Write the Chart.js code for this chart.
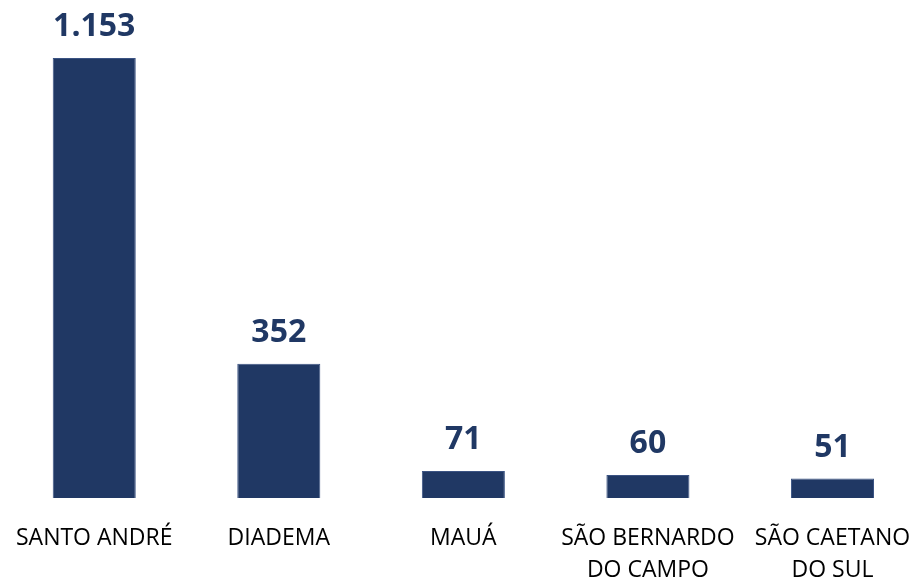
<!DOCTYPE html>
<html>
<head>
<meta charset="utf-8">
<script src="https://cdn.jsdelivr.net/npm/chart.js@4"></script>
<style>
  html, body { margin: 0; padding: 0; background: #fff; overflow: hidden; }
  #wrap { width: 926px; height: 581px; }
</style>
</head>
<body>
<div id="wrap"><canvas id="chart"></canvas></div>
<script>
const cities = [
    ['SANTO ANDRÉ'],
    ['DIADEMA'],
    ['MAUÁ'],
    ['SÃO BERNARDO', 'DO CAMPO'],
    ['SÃO CAETANO', 'DO SUL']
];
const totals = [1153, 352, 71, 60, 51];

const barColor = '#203864';
const fontFamily = '"Open Sans", "Noto Sans", sans-serif';

// value labels on top of each bar, pt-BR thousands separator
const valueLabels = {
    id: 'valueLabels',
    afterDatasetsDraw(chart) {
        const ctx = chart.ctx;
        const meta = chart.getDatasetMeta(0);
        ctx.save();
        ctx.font = 'bold 32px ' + fontFamily;
        ctx.fillStyle = barColor;
        ctx.textAlign = 'center';
        ctx.textBaseline = 'alphabetic';
        meta.data.forEach((bar, i) => {
            const text = totals[i].toLocaleString('pt-BR');
            ctx.fillText(text, bar.x, bar.y - 22);
        });
        ctx.restore();
    }
};

new Chart(document.getElementById('chart'), {
    type: 'bar',
    data: {
        labels: cities,
        datasets: [{
            data: totals,
            backgroundColor: barColor,
            borderColor: '#3b5383',
            borderWidth: 1,
            categoryPercentage: 1,
            barPercentage: 0.45
        }]
    },
    options: {
        responsive: true,
        maintainAspectRatio: false,
        animation: false,
        layout: {
            padding: { top: 58, left: 1, right: 0, bottom: 0 }
        },
        plugins: {
            legend: { display: false },
            tooltip: { enabled: false }
        },
        scales: {
            x: {
                grid: { display: false },
                border: { display: false },
                // fixed axis band so the bars sit on the same baseline
                afterFit(scale) {
                    scale.height = 83;
                },
                ticks: {
                    color: '#000',
                    padding: 16,
                    maxRotation: 0,
                    autoSkip: false,
                    font: { family: fontFamily, size: 23, lineHeight: 1.4 }
                }
            },
            y: {
                display: false,
                min: 0,
                max: 1153
            }
        }
    },
    plugins: [valueLabels]
});
</script>
</body>
</html>
